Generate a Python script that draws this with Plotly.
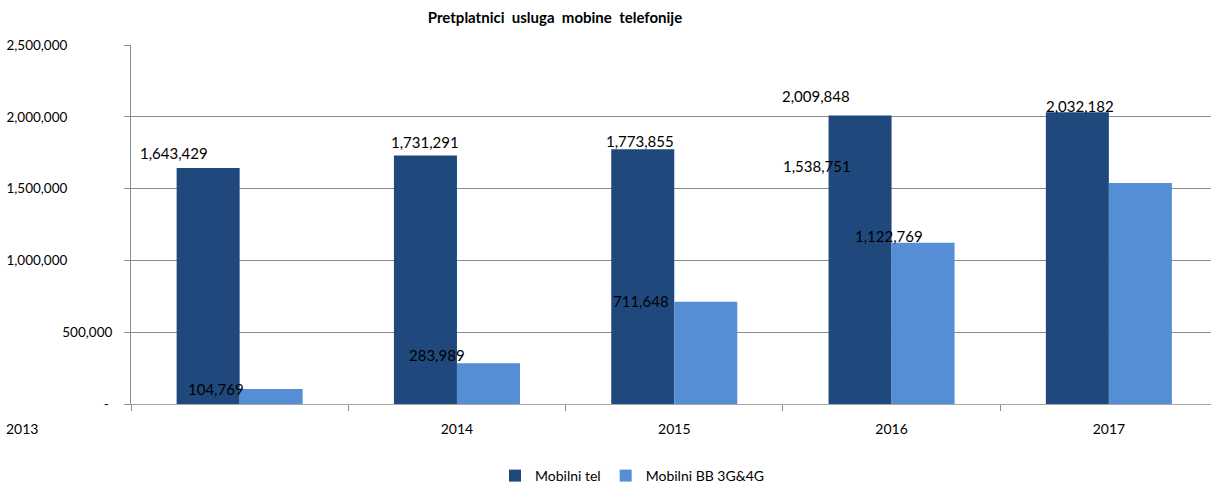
import plotly.graph_objects as go

# ---- data ----
years = ["2013", "2014", "2015", "2016", "2017"]
mobilni_tel = [1643429, 1731291, 1773855, 2009848, 2032182]
mobilni_bb = [104769, 283989, 711648, 1122769, 1538751]
series_names = ["Mobilni tel", "Mobilni BB 3G&4G"]
title_text = "Pretplatnici usluga mobine telefonije"
y_tickvals = [0, 500000, 1000000, 1500000, 2000000, 2500000]

# ---- styles ----
FONT = "Lato"
C_DARK = "#1F497D"
C_LIGHT = "#558ED5"
GRID = "#8C8C8C"
# label offsets (px) relative to bar top centre: (dx, dy_up)
tel_off = [(-34, 15), (0, 13), (-3, 8), (-44, 19), (3, 6)]
bb_off = [(-55, 0), (-51, 8), (-65, 1), (-34, 7), (-323, 17)]
BAR_HALF = 0.145

idx = list(range(len(years)))
NB = "\u00a0"

fig = go.Figure()
fig.add_trace(go.Bar(x=idx, y=mobilni_tel, name=series_names[0],
                     marker=dict(color=C_DARK, line=dict(width=0))))
fig.add_trace(go.Bar(x=idx, y=mobilni_bb, name=series_names[1],
                     marker=dict(color=C_LIGHT, line=dict(width=0))))

annotations = []
for i, v in enumerate(mobilni_tel):
    dx, dy = tel_off[i]
    annotations.append(dict(x=i - BAR_HALF, y=v, xref="x", yref="y", text=f"{v:,}",
                            showarrow=False, xanchor="center", yanchor="middle",
                            xshift=dx, yshift=dy,
                            font=dict(family=FONT, size=15, color="#000")))
for i, v in enumerate(mobilni_bb):
    dx, dy = bb_off[i]
    annotations.append(dict(x=i + BAR_HALF, y=v, xref="x", yref="y", text=f"{v:,}",
                            showarrow=False, xanchor="center", yanchor="middle",
                            xshift=dx, yshift=dy,
                            font=dict(family=FONT, size=15, color="#000")))
# first category label (drawn at the far left in the original)
annotations.append(dict(x=(4 - 131) / 1080, y=-(428 - 404) / 359, xref="paper", yref="paper",
                        text=years[0], showarrow=False, xanchor="left", yanchor="middle",
                        font=dict(family=FONT, size=14, color="#000")))


def fmt_y(v):
    if v == 0:
        return "-" + NB
    s = f"{v:,}"
    if v >= 1000000:
        s = s + NB * 13
    return s


fig.update_layout(
    width=1211, height=484,
    margin=dict(l=131, r=0, t=45, b=80, autoexpand=False),
    paper_bgcolor="white", plot_bgcolor="white",
    barmode="group", bargap=0.42, bargroupgap=0,
    title=dict(text="<b>" + (" " + NB).join(title_text.split(" ")) + "</b>",
               x=555 / 1211, xref="container",
               xanchor="center", y=1 - 18 / 484, yref="container", yanchor="middle",
               font=dict(family=FONT, size=15, color="#000")),
    font=dict(family=FONT, size=14, color="#000"),
    showlegend=True,
    legend=dict(orientation="h", xref="container", x=632 / 1211, xanchor="center",
                yref="container", y=1 - 476 / 484, yanchor="middle",
                font=dict(family=FONT, size=14, color="#000"),
                traceorder="normal"),
    annotations=annotations,
)
fig.update_xaxes(
    range=[-0.5, 4.47], tickmode="array", tickvals=idx[1:], ticktext=years[1:],
    ticks="", showgrid=False, showline=True, linecolor="#A6A6A6", linewidth=1,
    zeroline=False, ticklabelstandoff=12, automargin=False,
    tickfont=dict(family=FONT, size=14, color="#000"),
    minor=dict(tick0=-0.5, dtick=1, ticks="outside", ticklen=6, tickcolor=GRID,
               tickwidth=1, showgrid=False),
)
fig.update_yaxes(
    range=[0, 2500000], tickmode="array", tickvals=y_tickvals,
    ticktext=[fmt_y(v) for v in y_tickvals],
    showgrid=True, gridcolor=GRID, gridwidth=1,
    showline=True, linecolor=GRID, linewidth=1, zeroline=False, automargin=False,
    ticks="outside", ticklen=6, tickcolor=GRID, ticklabelstandoff=9,
    tickfont=dict(family=FONT, size=13.5, color="#000"),
)

fig.write_html("out.html", config={"displayModeBar": False},
               post_script="document.body.style.margin='0';document.body.style.overflow='hidden';")
